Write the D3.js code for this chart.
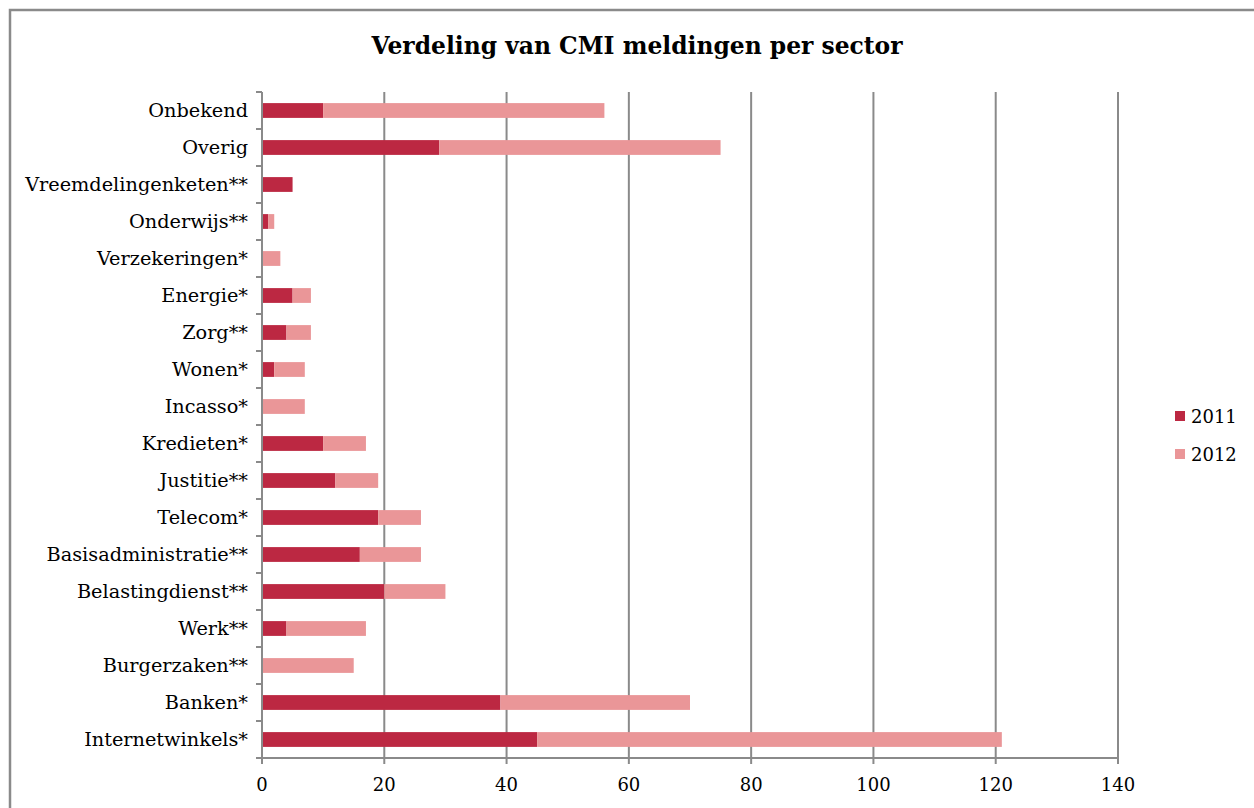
<!DOCTYPE html>
<html>
<head>
<meta charset="utf-8">
<script src="https://cdn.jsdelivr.net/npm/d3@7"></script>
<style>
  html, body { margin: 0; padding: 0; background: #fff; }
  svg { display: block; }
  text { font-family: Georgia, "DejaVu Serif", "Liberation Serif", serif; fill: #000; }
</style>
</head>
<body>
<svg id="chart" width="1254" height="808"></svg>
<script>
const title = "Verdeling van CMI meldingen per sector";
const categories = ["Onbekend", "Overig", "Vreemdelingenketen**", "Onderwijs**", "Verzekeringen*", "Energie*", "Zorg**", "Wonen*", "Incasso*", "Kredieten*", "Justitie**", "Telecom*", "Basisadministratie**", "Belastingdienst**", "Werk**", "Burgerzaken**", "Banken*", "Internetwinkels*"];
const seriesNames = ["2011", "2012"];
const values2011 = [10, 29, 5, 1, 0, 5, 4, 2, 0, 10, 12, 19, 16, 20, 4, 0, 39, 45];
const values2012 = [46, 46, 0, 1, 3, 3, 4, 5, 7, 7, 7, 7, 10, 10, 13, 15, 31, 76];
const xTicks = [0, 20, 40, 60, 80, 100, 120, 140];
const colors = ["#BC2842", "#EA9698"];

(function () {
const svg = d3.select("#chart");
const W = 1254, H = 808;
const pL = 262, pR = 1118, pT = 92, pB = 758;
const gridColor = "#8a8a8a";

// outer frame (left and top edges visible)
svg.append("path")
  .attr("d", `M10,${H + 5} L10,10 L${W + 5},10`)
  .attr("fill", "none").attr("stroke", "#8a8a8a").attr("stroke-width", 2.5);

// title
svg.append("text")
  .attr("x", 637).attr("y", 54)
  .attr("text-anchor", "middle")
  .style("font-weight", "bold").style("font-size", "23.4px")
  .text(title);

const x = d3.scaleLinear().domain([0, 140]).range([pL, pR]);
const y = d3.scaleBand().domain(categories).range([pT, pB]).paddingInner(0.6).paddingOuter(0.3);
const slot = d3.scaleBand().domain(categories).range([pT, pB]).padding(0);

// gridlines
svg.append("g").selectAll("line").data(xTicks.filter(d => d > 0)).join("line")
  .attr("x1", d => x(d)).attr("x2", d => x(d))
  .attr("y1", pT).attr("y2", pB)
  .attr("stroke", gridColor).attr("stroke-width", 2);

// stacked bars
const rows = categories.map((c, i) => ({ cat: c, "2011": values2011[i], "2012": values2012[i] }));
const stacked = d3.stack().keys(seriesNames)(rows);
svg.append("g").selectAll("g").data(stacked).join("g")
  .attr("fill", (d, i) => colors[i])
  .selectAll("rect").data(d => d).join("rect")
  .attr("x", d => x(d[0]))
  .attr("width", d => Math.max(0, x(d[1]) - x(d[0])))
  .attr("y", d => y(d.data.cat))
  .attr("height", y.bandwidth());

// y axis
const yAxisG = svg.append("g");
yAxisG.append("line").attr("x1", pL).attr("x2", pL).attr("y1", pT).attr("y2", pB + 6)
  .attr("stroke", gridColor).attr("stroke-width", 2);
const bounds = categories.map(c => slot(c)).concat([pB]);
yAxisG.selectAll("line.tick").data(bounds).join("line").attr("class", "tick")
  .attr("x1", pL - 6).attr("x2", pL).attr("y1", d => d).attr("y2", d => d)
  .attr("stroke", gridColor).attr("stroke-width", 2);
yAxisG.selectAll("text").data(categories).join("text")
  .attr("x", 248)
  .attr("y", d => slot(d) + slot.bandwidth() / 2)
  .attr("dy", "0.35em")
  .attr("text-anchor", "end")
  .style("font-size", "19.3px")
  .text(d => d);

// x axis
const xAxisG = svg.append("g");
xAxisG.append("line").attr("x1", pL).attr("x2", pR).attr("y1", pB).attr("y2", pB)
  .attr("stroke", gridColor).attr("stroke-width", 2);
xAxisG.selectAll("line.tick").data(xTicks).join("line").attr("class", "tick")
  .attr("x1", d => x(d)).attr("x2", d => x(d)).attr("y1", pB).attr("y2", pB + 6)
  .attr("stroke", gridColor).attr("stroke-width", 2);
xAxisG.selectAll("text").data(xTicks).join("text")
  .attr("x", d => x(d)).attr("y", 791)
  .attr("text-anchor", "middle")
  .style("font-size", "18px")
  .text(d => d);

// legend
const legend = svg.append("g").selectAll("g").data(seriesNames).join("g")
  .attr("transform", (d, i) => `translate(1175, ${411 + i * 38})`);
legend.append("rect").attr("width", 10).attr("height", 10).attr("fill", (d, i) => colors[i]);
legend.append("text").attr("x", 16).attr("y", 12).style("font-size", "18px").text(d => d);
})();
</script>
</body>
</html>
